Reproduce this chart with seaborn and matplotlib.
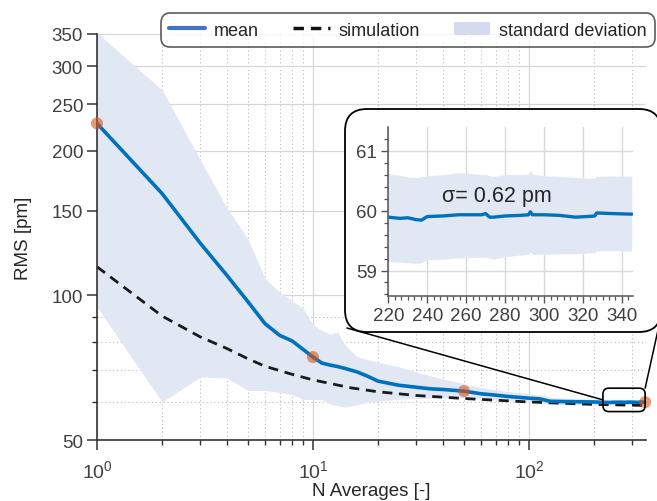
import numpy as np
import pandas as pd
import matplotlib
matplotlib.use("Agg")
import matplotlib.pyplot as plt
import seaborn as sns
from matplotlib.lines import Line2D
from matplotlib.patches import Patch, FancyBboxPatch
from matplotlib.ticker import FixedLocator, FuncFormatter, LogLocator, NullFormatter, MultipleLocator, AutoMinorLocator

# ── Data ──────────────────────────────────────────────────────────────────────
n_avg = [1, 2, 3, 4, 5, 6, 7, 8, 9, 10, 11, 12, 13, 14, 16, 18, 20, 25, 30, 35,
         40, 50, 60, 70, 80, 100, 112, 125, 150, 200,
         220, 226, 230, 234, 237, 240, 248, 256, 262, 268, 270, 272, 274, 280,
         288, 292, 293, 294, 300, 308, 316, 322, 326, 327, 335, 345]
rms_mean = [228, 163, 128.6, 110, 97, 87.3, 82.6, 80.4, 77.2, 74.4, 72.3, 71.6, 71.1, 70.5,
            69.3, 67.8, 66.3, 65.0, 64.4, 63.9, 63.7, 63.2, 62.4, 62.0, 61.6, 61.1, 60.9,
            60.2, 60.1, 60.0,
            59.89, 59.87, 59.88, 59.85, 59.84, 59.90, 59.91, 59.93, 59.93, 59.93, 59.95,
            59.89, 59.89, 59.91, 59.92, 59.93, 59.98, 59.93, 59.93, 59.92, 59.89, 59.90,
            59.91, 59.96, 59.95, 59.94]
rms_upper = [352, 268, 192, 152, 131, 108.4, 101.7, 97.5, 93.9, 87, 84.5, 83, 84, 79,
             74.5, 73.5, 72.6, 71, 69.3, 68, 67, 65.5, 64.3, 63.6, 63.1, 62.4, 62.0,
             61.4, 61.1, 60.8,
             60.61, 60.59, 60.56, 60.55, 60.56, 60.58, 60.60, 60.63, 60.62, 60.60, 60.61,
             60.58, 60.57, 60.60, 60.60, 60.61, 60.67, 60.61, 60.58, 60.57, 60.55, 60.54,
             60.54, 60.57, 60.58, 60.57]
rms_lower = [94.6, 60.0, 67.6, 67.3, 63.4, 63.4, 62.8, 62.2, 60.7, 60.8, 60.7, 59.4, 59.0,
             58.5, 59.2, 60.0, 60.3, 60.8, 61.0, 61.1, 61.2, 61.2, 60.9, 60.6, 60.4, 60.0,
             59.8, 59.3, 59.25, 59.2,
             59.15, 59.14, 59.13, 59.12, 59.13, 59.18, 59.19, 59.21, 59.22, 59.22, 59.23,
             59.20, 59.19, 59.23, 59.26, 59.27, 59.31, 59.27, 59.27, 59.28, 59.28, 59.29,
             59.30, 59.33, 59.33, 59.32]

sim_n = [1, 2, 3, 4, 5, 6, 8, 10, 15, 20, 30, 50, 100, 200, 345]
sim_rms = [114.7, 90.6, 82.0, 77.5, 73.8, 71.2, 68.5, 66.7, 64.2, 63.0, 61.9, 61.0, 60.0, 59.3, 59.0]

dot_n = [1, 10, 50, 345]

y_major = [50, 100, 150, 200, 250, 300, 350]
y_minor = [60, 70, 80, 90]
zoom_box = (220, 345, 57.3, 64.1)   # N range and RMS range of the small frame
sigma_text = "σ= 0.62 pm"

df = pd.DataFrame({"n": n_avg, "mean": rms_mean, "upper": rms_upper, "lower": rms_lower})
df_sim = pd.DataFrame({"n": sim_n, "rms": sim_rms})
df_dot = df[df["n"].isin(dot_n)]
df_in = df[df["n"] >= 220]

# ── Style ─────────────────────────────────────────────────────────────────────
sns.set_theme(style="ticks")
plt.rcParams["font.family"] = ["Liberation Sans", "DejaVu Sans"]
plt.rcParams["axes.unicode_minus"] = False

BLUE = "#0072BD"
BAND = "#E1E7F3"
DOT = "#D95319"
SPINE = "#333333"
TICK_TXT = "#404040"

fig = plt.figure(figsize=(6.57, 5.02), dpi=100)
ax = fig.add_axes([0.1476, 0.1215, 0.8356, 0.8088])

ax.set_xscale("log")
ax.set_yscale("log")

ax.fill_between(df["n"], df["lower"], df["upper"], color=BAND, lw=0, zorder=1)
sns.lineplot(data=df, x="n", y="mean", color=BLUE, lw=2.6, ax=ax, zorder=3)
sns.lineplot(data=df_sim, x="n", y="rms", color="#1a1a1a", lw=2.0, ax=ax, zorder=2.5,
             linestyle="--")
ax.lines[-1].set_dashes([3.6, 2.4])
sns.scatterplot(data=df_dot, x="n", y="mean", color=DOT, alpha=0.6, s=75,
                edgecolor="none", ax=ax, zorder=4, clip_on=False)

ax.set_xlim(1, 348)
ax.set_ylim(50, 350)
ax.yaxis.set_major_locator(FixedLocator(y_major))
ax.yaxis.set_minor_locator(FixedLocator(y_minor))
ax.yaxis.set_major_formatter(FuncFormatter(lambda v, p: f"{v:g}"))
ax.yaxis.set_minor_formatter(NullFormatter())
ax.xaxis.set_major_locator(LogLocator(base=10))
ax.xaxis.set_minor_locator(LogLocator(base=10, subs=np.arange(2, 10)))
ax.xaxis.set_minor_formatter(NullFormatter())

ax.grid(which="major", color="#d6d6d6", lw=0.9, ls="-")
ax.grid(which="minor", color="#b8b8b8", lw=0.8, ls=(0, (1, 2.5)))

for side in ["top", "right"]:
    ax.spines[side].set_visible(False)
for side in ["left", "bottom"]:
    ax.spines[side].set_color(SPINE)
    ax.spines[side].set_linewidth(1.2)
ax.tick_params(which="major", direction="out", length=7, width=1.1, color=SPINE,
               labelsize=13.5, labelcolor=TICK_TXT, pad=3)
ax.tick_params(axis="x", which="major", labelsize=14, pad=7)
ax.tick_params(which="minor", direction="out", length=3.5, width=1.0, color=SPINE)
ax.set_xlabel("N Averages [-]", fontsize=13.5, labelpad=0.5)
ax.set_ylabel("RMS [pm]", fontsize=13.5, labelpad=14)

# ── Legend ────────────────────────────────────────────────────────────────────
handles = [
    Line2D([], [], color="#4472C4", lw=3),
    Line2D([], [], color="#111111", lw=2.5, ls=(0, (3, 2))),
    Patch(facecolor="#D5DBEE", edgecolor="none"),
]
leg = fig.legend(handles, ["mean", "simulation", "standard deviation"],
                 loc="center", bbox_to_anchor=(0.621, 0.938), ncol=3, fontsize=13,
                 frameon=True, handlelength=2.0, handletextpad=0.5, columnspacing=1.9,
                 borderpad=0.35, fancybox=True)
leg.get_frame().set_edgecolor("#333333")
leg.get_frame().set_linewidth(1.2)
leg.get_frame().set_boxstyle("round,pad=0.1,rounding_size=0.5")

# ── Zoom frame in the main axes ──────────────────────────────────────────────
inch = fig.dpi_scale_trans.inverted()
(x0, y0) = inch.transform(ax.transData.transform((zoom_box[0], zoom_box[2])))
(x1, y1) = inch.transform(ax.transData.transform((zoom_box[1], zoom_box[3])))
frame = FancyBboxPatch((x0, y0), x1 - x0, y1 - y0,
                       boxstyle="round,pad=0,rounding_size=0.06",
                       transform=fig.dpi_scale_trans, fill=False,
                       edgecolor="black", lw=1.2, zorder=0.6)
fig.add_artist(frame)

# Inset frame (white rounded box)
bx0, by0, bw, bh = 3.45, 1.69, 3.16, 2.23
box = FancyBboxPatch((bx0, by0), bw, bh, boxstyle="round,pad=0,rounding_size=0.22",
                     transform=fig.dpi_scale_trans, facecolor="white",
                     edgecolor="black", lw=1.3, zorder=1)
fig.add_artist(box)

# connector lines
fig.add_artist(Line2D([x0, bx0 + 0.02], [(y0 + y1) / 2, by0 + 0.04],
                      transform=fig.dpi_scale_trans, color="black", lw=1.1, zorder=0.5))
fig.add_artist(Line2D([x1, bx0 + bw - 0.03], [y1, by0 + 0.02],
                      transform=fig.dpi_scale_trans, color="black", lw=1.1, zorder=0.5))

# ── Inset axes ────────────────────────────────────────────────────────────────
axi = fig.add_axes([0.591, 0.409, 0.372, 0.3355])
axi.set_zorder(3)
axi.patch.set_alpha(0)
axi.fill_between(df_in["n"], df_in["lower"], df_in["upper"], color=BAND, lw=0, zorder=1)
sns.lineplot(data=df_in, x="n", y="mean", color=BLUE, lw=2.4, ax=axi, zorder=3)
axi.set_xlim(220, 345.5)
axi.set_ylim(58.58, 61.39)
axi.xaxis.set_major_locator(MultipleLocator(20))
axi.xaxis.set_minor_locator(AutoMinorLocator(6))
axi.yaxis.set_major_locator(MultipleLocator(1))
axi.yaxis.set_minor_locator(AutoMinorLocator(5))
axi.grid(which="major", color="#d9d9d9", lw=1.0)
for side in ["top", "right"]:
    axi.spines[side].set_visible(False)
for side in ["left", "bottom"]:
    axi.spines[side].set_color("#555555")
    axi.spines[side].set_linewidth(1.1)
axi.tick_params(which="major", direction="out", length=5, width=1.0, color="#555555",
                labelsize=13.5, labelcolor=TICK_TXT, pad=3)
axi.tick_params(which="minor", direction="out", length=3, width=0.9, color="#555555")
axi.set_xlabel("")
axi.set_ylabel("")
axi.text(276, 60.245, sigma_text, ha="center", va="center", fontsize=15.5, color="#262626")

fig.savefig("out.png", dpi=100)
